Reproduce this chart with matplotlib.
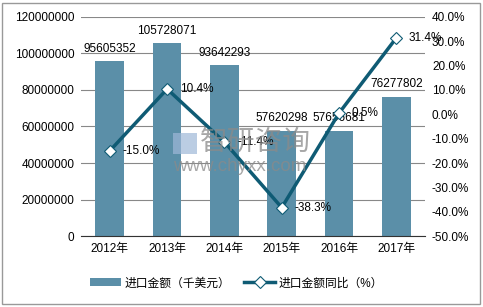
import matplotlib
matplotlib.use("Agg")
import matplotlib.pyplot as plt
from matplotlib.patches import Rectangle
import numpy as np

plt.rcParams['font.family'] = ['Liberation Sans', 'Noto Sans CJK SC', 'DejaVu Sans']

years = ["2012年", "2013年", "2014年", "2015年", "2016年", "2017年"]
amount = [95605352, 105728071, 93642293, 57620298, 57656681, 76277802]
yoy = [-15.0, 10.4, -11.4, -38.3, 0.5, 31.4]

bar_color = "#5b8fa8"
line_color = "#0f5b74"

fig = plt.figure(figsize=(4.83, 3.07), dpi=100)
ax = fig.add_axes([0.168, 0.231, 0.712, 0.714])
x = np.arange(len(years))

ax.bar(x, amount, width=0.5, color=bar_color, label="进口金额（千美元）", zorder=2)
ax.set_ylim(0, 120000000)
ax.set_yticks(np.arange(0, 120000001, 20000000))
ax.set_yticklabels([str(v) for v in range(0, 120000001, 20000000)])
ax.yaxis.grid(True, color="#888888", linewidth=0.8, zorder=0)
ax.set_xlim(-0.5, len(years) - 0.5)
ax.set_xticks(x)
ax.set_xticklabels(years)
ax.tick_params(length=0, labelsize=8.5, pad=5)
for s in ["top", "right", "left"]:
    ax.spines[s].set_visible(False)
ax.spines["bottom"].set_color("#333333")

for xi, v in zip(x, amount):
    ax.text(xi, v + 3500000, str(v), ha="center", va="bottom", fontsize=8.5, zorder=5)

ax2 = ax.twinx()
ax2.plot(x, yoy, color=line_color, linewidth=2.5, marker="D", markersize=6,
         markerfacecolor="white", markeredgecolor=line_color, markeredgewidth=0.8,
         label="进口金额同比（%）", zorder=3)
ax2.set_ylim(-50, 40)
ax2.set_yticks(np.arange(-50, 41, 10))
ax2.set_yticklabels(["%.1f%%" % v for v in np.arange(-50, 41, 10)])
ax2.tick_params(length=0, labelsize=8.5, pad=5)
for s in ["top", "right", "left", "bottom"]:
    ax2.spines[s].set_visible(False)
for xi, v in zip(x, yoy):
    ax2.text(xi + 0.22, v, "%.1f%%" % v, ha="left", va="center", fontsize=8.5, zorder=5)

# watermark
fig.text(0.528, 0.534, "智研咨询", fontsize=20, color="#8a8a8a", alpha=0.75, ha="center", va="center")
fig.text(0.497, 0.459, "www.chyxx.com", fontsize=13.5, color="#8a8a8a", alpha=0.75, ha="center", va="center")
fig.patches.append(Rectangle((0.358, 0.50), 0.05, 0.068, transform=fig.transFigure,
                             facecolor="#9fb8d8", edgecolor="none", alpha=0.7))

h1, l1 = ax.get_legend_handles_labels()
h2, l2 = ax2.get_legend_handles_labels()
fig.legend(h1 + h2, l1 + l2, loc="center", bbox_to_anchor=(0.49, 0.077), ncol=2,
           frameon=False, fontsize=8.5, handlelength=2.6, columnspacing=1.2, handletextpad=0.3)

fig.patches.append(Rectangle((0.004, 0.01), 0.99, 0.98, transform=fig.transFigure,
                             fill=False, edgecolor="#999999", linewidth=1))

fig.savefig("out.png", dpi=100)
